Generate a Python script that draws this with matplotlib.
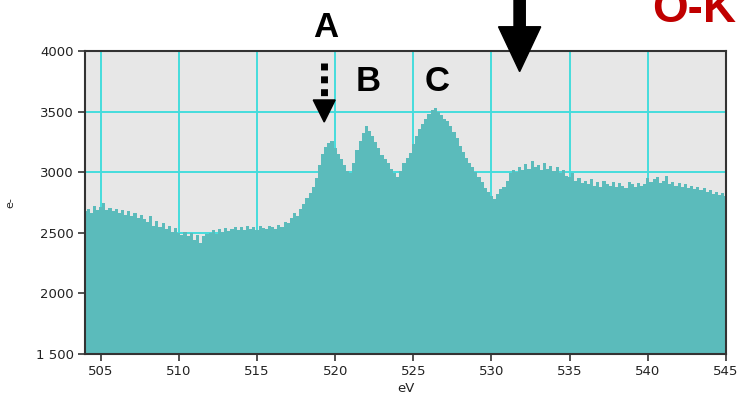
import numpy as np
import matplotlib
matplotlib.use("Agg")
import matplotlib.pyplot as plt
from matplotlib.patches import Polygon

# energy loss axis, 0.2 eV channels
energy_start = 504.0
energy_step = 0.2

# O-K edge counts, one row per 2 eV
counts = [
    2680, 2700, 2665, 2720, 2690, 2710, 2745, 2690, 2705, 2680,
    2700, 2660, 2690, 2650, 2680, 2640, 2665, 2620, 2650, 2610,
    2590, 2640, 2560, 2600, 2545, 2580, 2530, 2555, 2510, 2540,
    2500, 2480, 2510, 2470, 2495, 2440, 2480, 2415, 2470, 2490,
    2500, 2520, 2490, 2530, 2505, 2540, 2515, 2530, 2550, 2520,
    2545, 2525, 2560, 2530, 2550, 2520, 2555, 2540, 2530, 2560,
    2545, 2530, 2565, 2550, 2590, 2580, 2620, 2660, 2640, 2700,
    2740, 2790, 2830, 2880, 2950, 3060, 3150, 3210, 3240, 3260,
    3200, 3150, 3110, 3060, 3010, 2990, 3080, 3180, 3260, 3320,
    3380, 3340, 3300, 3250, 3200, 3140, 3110, 3080, 3030, 2990,
    2960, 3010, 3080, 3120, 3160, 3230, 3300, 3360, 3400, 3440,
    3480, 3510, 3530, 3500, 3470, 3440, 3420, 3380, 3330, 3280,
    3220, 3170, 3120, 3080, 3040, 3000, 2960, 2920, 2870, 2840,
    2800, 2780, 2820, 2860, 2880, 2930, 2990, 3020, 3000, 3040,
    3020, 3070, 3030, 3090, 3040, 3060, 3020, 3080, 3030, 3050,
    3010, 3040, 2990, 3020, 2970, 2960, 2990, 2930, 2950, 2910,
    2930, 2900, 2940, 2890, 2920, 2880, 2930, 2900, 2890, 2920,
    2880, 2910, 2890, 2870, 2920, 2900, 2880, 2910, 2890, 2900,
    2950, 2920, 2940, 2960, 2910, 2930, 2970, 2900, 2920, 2890,
    2910, 2880, 2900, 2870, 2890, 2860, 2880, 2850, 2870, 2840,
    2850, 2820, 2840, 2810, 2830, 2800,
]

xticks = [505, 510, 515, 520, 525, 530, 535, 540, 545]
yticks = [1500, 2000, 2500, 3000, 3500, 4000]

# peak labels: (text, eV, counts)
peak_labels = [("A", 519.4, 4190), ("B", 522.1, 3752), ("C", 526.5, 3752)]
dashed_arrow_ev = 519.3
dashed_arrow_top, dashed_arrow_tip = 3900, 3414
edge_arrow_ev = 531.8
edge_arrow_tip = 3830

energy = energy_start + energy_step * np.arange(len(counts))

fig = plt.figure(figsize=(7.5, 4.11), dpi=100)
ax = fig.add_axes([85 / 750, 1 - 354 / 411, 641 / 750, 303 / 411])
ax.set_facecolor("#e7e7e7")

ax.fill_between(energy, 1500, counts, step="mid", color="#5bbbbb", lw=0, zorder=2)

ax.set_xlim(504, 545)
ax.set_ylim(1500, 4000)
ax.set_xticks(xticks)
ax.set_yticks(yticks)
ax.yaxis.set_major_formatter(plt.FuncFormatter(lambda v, p: "1 500" if v == 1500 else f"{int(v)}"))
ax.grid(True, color="#45dcdc", lw=1.4, zorder=1)
ax.set_axisbelow(True)
ax.tick_params(direction="out", length=5, width=1.2, color="#333333",
               labelsize=9.5, labelcolor="#222222", pad=3)
for s in ax.spines.values():
    s.set_color("#333333")
    s.set_linewidth(1.5)
    s.set_zorder(3)

ax.set_xlabel("eV", fontsize=9.5, color="#222222", labelpad=3)
ax.set_ylabel("e-", fontsize=8, color="#222222")
ax.yaxis.set_label_coords(-0.108, 0.5)

bold = dict(family="Liberation Sans", weight="bold", color="black")
for txt, ev, c in peak_labels:
    ax.text(ev, c, txt, fontsize=25, ha="center", va="center", clip_on=False, zorder=6, **bold)

# dashed arrow pointing at peak A
head_base = dashed_arrow_tip + 182
ax.plot([dashed_arrow_ev, dashed_arrow_ev], [dashed_arrow_top, head_base + 20], color="black",
        lw=5, ls=(0, (1.0, 0.85)), solid_capstyle="butt", dash_capstyle="butt", zorder=6)
ax.add_patch(Polygon([(dashed_arrow_ev - 0.7, head_base), (dashed_arrow_ev + 0.7, head_base),
                      (dashed_arrow_ev, dashed_arrow_tip)], closed=True, color="black",
                     clip_on=False, zorder=6))

# big arrow marking the edge onset
hw, sw = 1.35, 0.36
base = edge_arrow_tip + 370
ax.add_patch(Polygon([(edge_arrow_ev - sw, 4500), (edge_arrow_ev + sw, 4500),
                      (edge_arrow_ev + sw, base), (edge_arrow_ev + hw, base),
                      (edge_arrow_ev, edge_arrow_tip), (edge_arrow_ev - hw, base),
                      (edge_arrow_ev - sw, base)], closed=True, color="black",
                     clip_on=False, zorder=6))

# edge name, running off the top like the arrow shaft
fig.text(652 / 750, 1 - 22 / 411, "O-K", fontsize=33, color="#c00000", ha="left",
         va="baseline", family="Liberation Sans", weight="bold")

fig.savefig("out.png", dpi=100)
